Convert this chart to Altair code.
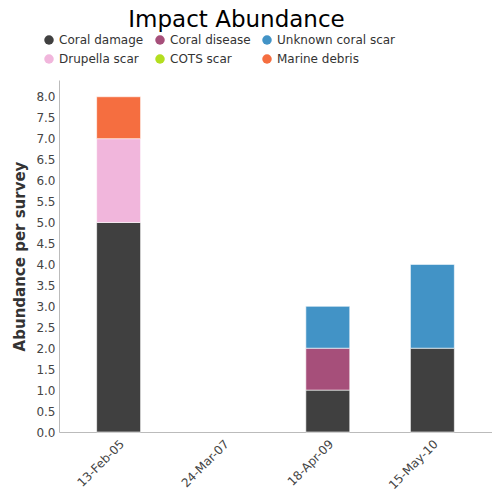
import altair as alt
import pandas as pd

dates = ["13-Feb-05", "24-Mar-07", "18-Apr-09", "15-May-10"]
categories = ["Coral damage", "Coral disease", "Unknown coral scar",
              "Drupella scar", "COTS scar", "Marine debris"]
colors = ["#404040", "#a64f7a", "#4293c6", "#f1b6dc", "#b3de1f", "#f56e40"]

coral_damage = [5, 0, 1, 2]
coral_disease = [0, 0, 1, 0]
unknown_scar = [0, 0, 1, 2]
drupella_scar = [2, 0, 0, 0]
cots_scar = [0, 0, 0, 0]
marine_debris = [1, 0, 0, 0]

series = [coral_damage, coral_disease, unknown_scar, drupella_scar, cots_scar, marine_debris]
rows = []
for ci, (cat, vals) in enumerate(zip(categories, series)):
    for d, v in zip(dates, vals):
        rows.append({"date": d, "category": cat, "value": v, "order": ci})
df = pd.DataFrame(rows)

font = "DejaVu Sans"

chart = alt.Chart(df).mark_bar(stroke="white", strokeWidth=0.6).encode(
    x=alt.X("date:N", sort=dates, title=None,
            scale=alt.Scale(domain=dates, paddingInner=0.58, paddingOuter=0.36),
            axis=alt.Axis(labelAngle=-45, labelFontSize=12, labelColor="#444",
                          labelFont=font, ticks=False, domainColor="#bbb",
                          labelPadding=6)),
    y=alt.Y("value:Q", title="Abundance per survey",
            scale=alt.Scale(domain=[0, 8.4], nice=False),
            axis=alt.Axis(values=[i * 0.5 for i in range(17)], format=".1f",
                          grid=False, ticks=False, domainColor="#bbb",
                          labelFontSize=12, labelColor="#444", labelFont=font,
                          labelPadding=4, titleFont=font, titleFontSize=15,
                          titleColor="#333", titleFontWeight="bold",
                          titlePadding=8)),
    color=alt.Color("category:N", sort=categories,
                    scale=alt.Scale(domain=categories, range=colors),
                    legend=alt.Legend(title=None, orient="none", legendX=-16, legendY=-46,
                                      direction="horizontal", columns=3, gridAlign="none",
                                      symbolType="circle", symbolSize=90, symbolStrokeWidth=0,
                                      labelFontSize=12, labelColor="#333", labelFont=font,
                                      columnPadding=10, rowPadding=7, labelOffset=4)),
    order=alt.Order("order:Q", sort="ascending"),
).transform_filter(
    alt.datum.value > 0
).properties(
    width=433, height=352,
    title=alt.TitleParams("Impact Abundance", fontSize=23, font=font, fontWeight="normal",
                          color="#000", anchor="middle", dx=-39, offset=2),
    autosize=alt.AutoSizeParams(type="none"),
    padding={"left": 51, "top": 72, "right": 0, "bottom": 60},
).configure_view(stroke=None)

chart.save("out.html", embed_options={"renderer": "svg", "actions": False})
